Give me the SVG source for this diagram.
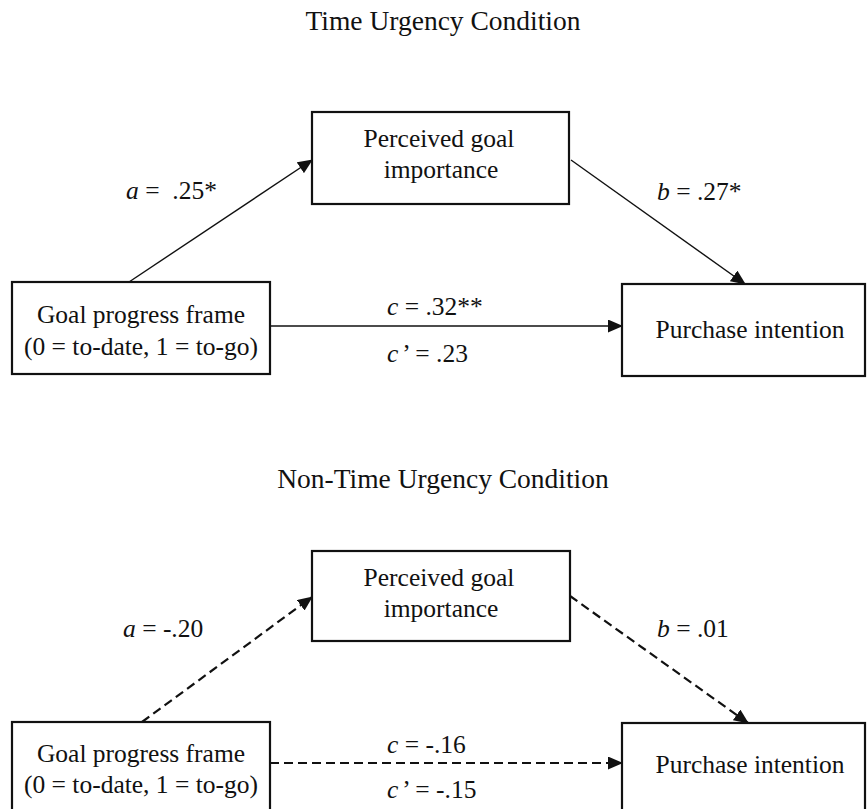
<svg xmlns="http://www.w3.org/2000/svg" width="867" height="809" viewBox="0 0 867 809" font-family="'Liberation Serif', 'DejaVu Serif', serif">
<style>
text{font-family:'Liberation Serif','DejaVu Serif',serif;font-size:25.5px;fill:#111}
.title{font-size:27.5px;text-anchor:middle}
.mid{text-anchor:middle}
.box{fill:#fff;stroke:#111;stroke-width:2.2}
.ln{stroke:#111;stroke-width:1.4;fill:none}
.dash{stroke:#111;stroke-width:2.2;fill:none;stroke-dasharray:9 5}
.i{font-style:italic}
</style>
<defs>
<marker id="ah" markerUnits="userSpaceOnUse" markerWidth="15" markerHeight="13" refX="14" refY="6.5" orient="auto">
<path d="M0,0 L15,6.5 L0,13 z" fill="#111"/>
</marker>
</defs>
<rect width="867" height="809" fill="#fff"/>
<text class="title" x="443" y="30">Time Urgency Condition</text>
<text class="title" x="443" y="488">Non-Time Urgency Condition</text>
<g id="connectors">
<line class="ln" x1="129" y1="282" x2="312" y2="160" marker-end="url(#ah)"/>
<line class="ln" x1="571" y1="160" x2="745" y2="284" marker-end="url(#ah)"/>
<line class="ln" x1="270" y1="326" x2="622" y2="326" marker-end="url(#ah)"/>
<line class="dash" x1="142" y1="722" x2="312" y2="597" marker-end="url(#ah)"/>
<line class="dash" x1="570" y1="596" x2="748" y2="723" marker-end="url(#ah)"/>
<line class="dash" x1="270" y1="763" x2="622" y2="763" marker-end="url(#ah)"/>
<text x="126" y="199" xml:space="preserve"><tspan class="i">a</tspan> =  .25*</text>
<text x="657" y="200"><tspan class="i">b</tspan> = .27*</text>
<text x="387" y="315"><tspan class="i">c</tspan> = .32**</text>
<text x="387" y="362"><tspan class="i">c</tspan><tspan dx="4">’</tspan> = .23</text>
<text x="123" y="637"><tspan class="i">a</tspan> = -.20</text>
<text x="657" y="637"><tspan class="i">b</tspan> = .01</text>
<text x="387" y="753"><tspan class="i">c</tspan> = -.16</text>
<text x="387" y="798"><tspan class="i">c</tspan><tspan dx="4">’</tspan> = -.15</text>
</g>
<g id="top-mediator">
<rect class="box" x="312" y="112" width="257" height="92"/>
<text class="mid" x="439" y="147">Perceived goal</text>
<text class="mid" x="441" y="178">importance</text>
</g>
<g id="top-goal">
<rect class="box" x="12" y="282" width="258" height="92"/>
<text class="mid" x="141" y="323">Goal progress frame</text>
<text class="mid" x="141" y="355">(0 = to-date, 1 = to-go)</text>
</g>
<g id="top-purchase">
<rect class="box" x="622" y="284" width="243" height="92"/>
<text class="mid" x="750" y="338">Purchase intention</text>
</g>
<g id="bottom-mediator">
<rect class="box" x="312" y="551" width="258" height="90"/>
<text class="mid" x="439" y="586">Perceived goal</text>
<text class="mid" x="441" y="617">importance</text>
</g>
<g id="bottom-goal">
<rect class="box" x="12" y="722" width="258" height="100"/>
<text class="mid" x="141" y="762">Goal progress frame</text>
<text class="mid" x="141" y="793">(0 = to-date, 1 = to-go)</text>
</g>
<g id="bottom-purchase">
<rect class="box" x="622" y="723" width="243" height="100"/>
<text class="mid" x="750" y="773">Purchase intention</text>
</g>
</svg>
